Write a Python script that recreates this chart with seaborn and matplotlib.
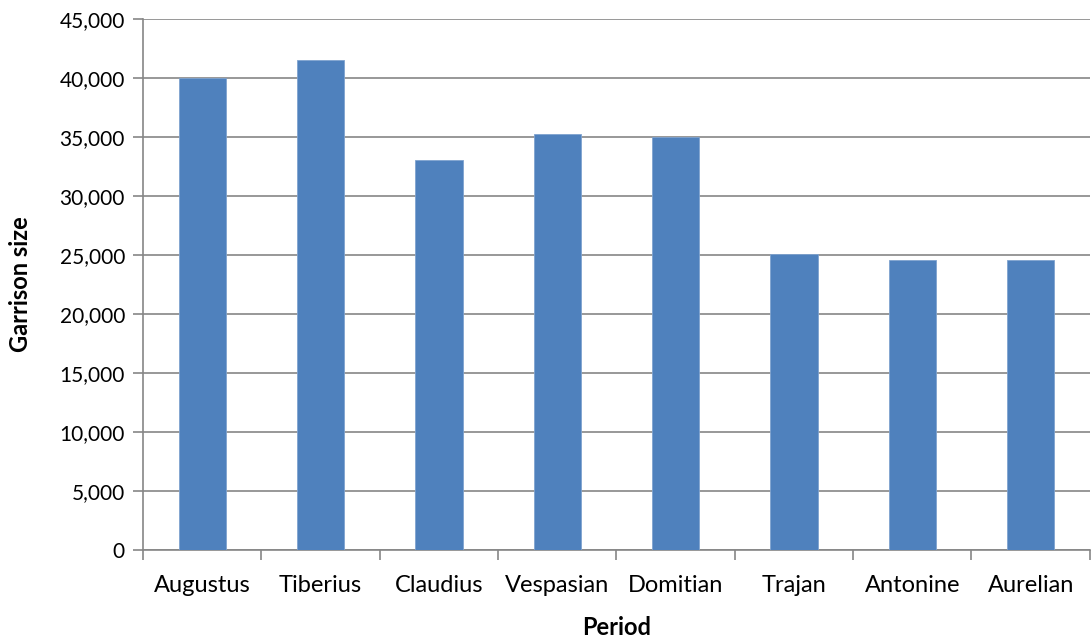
import matplotlib
matplotlib.use("Agg")
import matplotlib.pyplot as plt
import matplotlib.ticker as mticker
import seaborn as sns
import pandas as pd

periods = ["Augustus", "Tiberius", "Claudius", "Vespasian", "Domitian",
           "Trajan", "Antonine", "Aurelian"]
garrison = [40000, 41500, 33000, 35200, 35000, 25100, 24600, 24600]

sns.set_style("white")
plt.rcParams['font.family'] = ['Lato', 'DejaVu Sans']
plt.rcParams['font.size'] = 15
plt.rcParams['text.color'] = 'black'
plt.rcParams['xtick.color'] = 'black'
plt.rcParams['ytick.color'] = 'black'
plt.rcParams['axes.labelcolor'] = 'black'

data = pd.DataFrame({"Period": periods, "Garrison size": garrison})

fig = plt.figure(figsize=(10.92, 6.42), dpi=100)
ax = fig.add_axes([0.131, 0.143, 0.867, 0.828])

sns.barplot(data=data, x="Period", y="Garrison size", color="#4F81BD",
            width=0.4, saturation=1, edgecolor="#7fa3cf", linewidth=0.6,
            ax=ax, zorder=3)

ax.set_ylim(0, 45000)
ax.set_xlim(-0.5, len(periods) - 0.5)
ax.yaxis.set_major_locator(mticker.MultipleLocator(5000))
ax.yaxis.set_major_formatter(mticker.FuncFormatter(lambda v, p: f"{int(v):,}"))
ax.grid(axis="y", color="#868686", linewidth=1.2, zorder=0)
ax.set_axisbelow(True)

# category boundary ticks on x
ax.set_xticks([i - 0.5 for i in range(len(periods) + 1)], minor=True)
ax.tick_params(axis="x", which="minor", length=7, width=1.2, color="#868686", direction="out")
ax.tick_params(axis="x", which="major", length=0, pad=18, labelsize=17)
ax.tick_params(axis="y", length=7, width=1.2, color="#868686", direction="out",
               pad=6, labelsize=15)
ax.xaxis.set_ticks_position("bottom")
ax.yaxis.set_ticks_position("left")

for side in ["top", "right"]:
    ax.spines[side].set_visible(False)
for side in ["left", "bottom"]:
    ax.spines[side].set_color("#868686")
    ax.spines[side].set_linewidth(1.2)

ax.set_xlabel("Period", fontweight="bold", fontsize=17, labelpad=14)
ax.set_ylabel("Garrison size", fontweight="bold", fontsize=17, labelpad=20)

fig.savefig("out.png", dpi=100)
